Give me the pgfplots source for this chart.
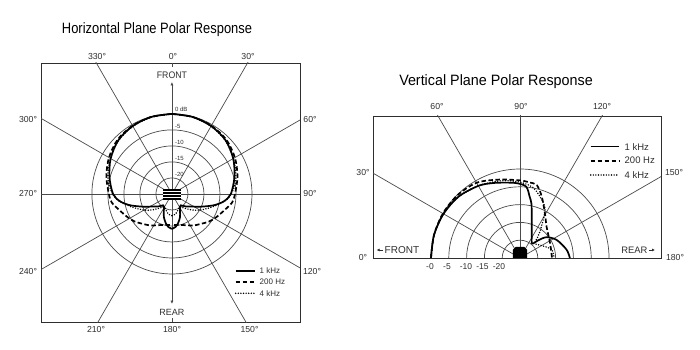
\documentclass[border=0pt]{standalone}
\usepackage{fontspec}
\setmainfont{Liberation Sans}
\usepackage{pgfplots}
\usepackage{pgfplotstable}
\usepgfplotslibrary{polar}
\usetikzlibrary{arrows.meta}
\pgfplotsset{compat=1.18}

\definecolor{ink}{HTML}{2E2E2E}
\definecolor{gridc}{HTML}{4A4A4A}

% Horizontal plane: angle clockwise from front (deg), level (dB); pattern is symmetric
\pgfplotstableread{
a db
0 0
15 -0.1
30 -0.5
45 -1.3
60 -2.9
75 -4.8
90 -6.6
98 -8.6
105 -11.4
114 -15.2
124 -18.0
133 -19.3
142 -20.5
148 -20.3
155 -19.0
161 -17.3
168 -15.7
174 -14.6
180 -14.1
}\hOneK
\pgfplotstableread{
a db
0 0
15 -0.1
30 -0.4
45 -1.0
60 -2.3
75 -3.8
90 -5.3
98 -6.0
107 -7.8
118 -9.4
127 -10.6
136 -12.0
145 -13.0
155 -14.2
165 -15.0
180 -15.3
}\hTwoH
\pgfplotstableread{
a db
0 0
15 -0.2
30 -0.6
45 -1.4
60 -2.8
75 -4.3
86 -5.8
96 -7.8
107 -11.5
120 -14.9
130 -17.3
140 -19.3
150 -20.3
160 -19.6
170 -18.6
180 -18.2
}\hFourK

% Vertical plane: angle from front (deg), level (dB)
\pgfplotstableread{
a db
0 0
15 0
30 -0.2
45 -0.6
60 -1.6
70 -2.6
80 -3.5
88 -4.0
95 -4.9
99 -7.6
102 -9.5
106 -13.1
110 -15.4
118 -18.0
130 -19.7
136 -17.8
142 -15.5
154 -13.5
170 -11.7
180 -11.0
}\vOneK
\pgfplotstableread{
a db
0 0
15 0
30 0
45 -0.1
60 -0.6
75 -2.2
90 -3.2
97 -3.6
103 -4.0
109.5 -6.7
119 -10.6
130.5 -13.5
154 -15.6
180 -16.0
}\vTwoH
\pgfplotstableread{
a db
0 0
15 0
30 -0.2
45 -0.7
60 -1.6
75 -2.6
88 -3.5
100 -4.8
110 -7.4
117.5 -9.8
125 -14.7
130 -17.2
136 -19.1
150 -18.0
165 -15.8
180 -15.4
}\vFourK

\tikzset{
  r1k/.style={black, line width=1.7pt},
  r200/.style={black, line width=1.7pt, dash pattern=on 4.5pt off 2.5pt},
  r4k/.style={black, line width=1.6pt, line cap=round, dash pattern=on 0pt off 2.6pt},
  gridline/.style={gridc, line width=0.7pt},
}

\begin{document}
\begin{tikzpicture}[x=1pt, y=1pt, font=\fontsize{8.7}{10}\selectfont]
\path[use as bounding box] (0,0) rectangle (700,350);

% ---------- Horizontal plane ----------
\begin{axis}[
  at={(41pt,28pt)}, anchor=south west,
  scale only axis, width=259pt, height=259pt,
  xmin=-40.9, xmax=40, ymin=-40, ymax=40.9,
  xtick=\empty, ytick=\empty,
  axis line style={ink, line width=0.8pt},
]
\pgfplotsinvokeforeach{5,10,15,20,25}{
  \draw[gridline] (axis cs:0,0) circle[radius=#1];
}
\pgfplotsinvokeforeach{30,60,120,150,210,240,300,330}{
  \draw[gridline] (axis cs:0,0) -- (axis cs:{90*sin(#1)},{90*cos(#1)});
}
\draw[gridline] (axis cs:-45,0) -- (axis cs:45,0);
\draw[gridline, -{Latex[length=3.5pt,width=3pt]}] (axis cs:0,0) -- (axis cs:0,35);
\draw[gridline, -{Latex[length=3.5pt,width=3pt]}] (axis cs:0,0) -- (axis cs:0,-34.4);
\draw[gridline] (axis cs:0,40.9) -- (axis cs:0,39.5);
\draw[gridline] (axis cs:0,-40) -- (axis cs:0,-38.7);

\addplot[r200, smooth, tension=0.5, data cs=polar] table[x expr={90-\thisrow{a}}, y expr={\thisrow{db}+25}] {\hTwoH};
\addplot[r200, smooth, tension=0.5, data cs=polar] table[x expr={90+\thisrow{a}}, y expr={\thisrow{db}+25}] {\hTwoH};
\addplot[r4k, smooth, tension=0.5, data cs=polar] table[x expr={90-\thisrow{a}}, y expr={\thisrow{db}+25}] {\hFourK};
\addplot[r4k, smooth, tension=0.5, data cs=polar] table[x expr={90+\thisrow{a}}, y expr={\thisrow{db}+25}] {\hFourK};
\addplot[r1k, smooth, tension=0.5, data cs=polar] table[x expr={90-\thisrow{a}}, y expr={\thisrow{db}+25}] {\hOneK};
\addplot[r1k, smooth, tension=0.5, data cs=polar] table[x expr={90+\thisrow{a}}, y expr={\thisrow{db}+25}] {\hOneK};

% microphone capsule
\fill[black] (axis cs:-2.7,-1.8) rectangle (axis cs:2.7,1.6);
\draw[white, line width=0.6pt] (axis cs:-2.7,-0.95) -- (axis cs:2.7,-0.95);
\draw[white, line width=0.6pt] (axis cs:-2.7,-0.1) -- (axis cs:2.7,-0.1);
\draw[white, line width=0.6pt] (axis cs:-2.7,0.75) -- (axis cs:2.7,0.75);

% level labels
\begin{scope}[every node/.style={anchor=base west, inner sep=0pt, text=ink, font=\fontsize{6}{6}\selectfont}]
\node at (axis cs:0.9,25.7) {0 dB};
\node at (axis cs:0.9,20.3) {-5};
\node at (axis cs:0.9,15.3) {-10};
\node at (axis cs:0.9,10.3) {-15};
\node at (axis cs:0.9,5.4) {-20};
\end{scope}
\node[text=ink, inner sep=0pt, font=\fontsize{9.5}{10}\selectfont] at (axis cs:0,37.0) {\scalebox{0.92}[1]{FRONT}};
\node[text=ink, inner sep=0pt, font=\fontsize{9}{10}\selectfont] at (axis cs:0,-36.9) {REAR};
\end{axis}

% ---------- Vertical plane ----------
\begin{axis}[
  at={(373pt,92pt)}, anchor=south west,
  scale only axis, width=288pt, height=142pt,
  xmin=-41.29, xmax=39.6, ymin=0, ymax=39.89,
  xtick=\empty, ytick=\empty,
  axis line style={ink, line width=0.8pt},
]
\pgfplotsinvokeforeach{5,10,15,20,25}{
  \draw[gridline] (axis cs:0,0) circle[radius=#1];
}
\pgfplotsinvokeforeach{30,60,90,120,150}{
  \draw[gridline] (axis cs:0,0) -- (axis cs:{-90*cos(#1)},{90*sin(#1)});
}
\addplot[r200, smooth, tension=0.5, data cs=polar] table[x expr={180-\thisrow{a}}, y expr={\thisrow{db}+25}] {\vTwoH};
\addplot[r4k, smooth, tension=0.5, data cs=polar] table[x expr={180-\thisrow{a}}, y expr={\thisrow{db}+25}] {\vFourK};
\addplot[r1k, smooth, tension=0.5, data cs=polar] table[x expr={180-\thisrow{a}}, y expr={\thisrow{db}+25}] {\vOneK};

% microphone body
\fill[black] (axis cs:-2,0) -- (axis cs:-2,2.3) -- (axis cs:-1.2,3.1) -- (axis cs:1.2,3.1) -- (axis cs:2,2.3) -- (axis cs:2,0) -- cycle;
\end{axis}

% ---------- titles ----------
\node[anchor=base, text=black, font=\fontsize{15}{15}\selectfont] at (157,316.7) {\scalebox{0.86}[1]{Horizontal Plane Polar Response}};
\node[anchor=base, text=black, font=\fontsize{15}{15}\selectfont] at (496,264) {\scalebox{0.955}[1]{Vertical Plane Polar Response}};

% ---------- angle labels, horizontal plane ----------
\begin{scope}[every node/.style={text=ink, inner sep=0pt}]
\node at (97,293.3) {330°};
\node at (173,293.3) {0°};
\node at (248,293.3) {30°};
\node at (28,230) {300°};
\node at (310,230) {60°};
\node at (28,156) {270°};
\node at (310,156) {90°};
\node at (28,78) {240°};
\node at (312,78) {120°};
\node at (96,20) {210°};
\node at (172,20) {180°};
\node at (249.5,20) {150°};

% ---------- angle labels, vertical plane ----------
\node at (437,243) {60°};
\node at (521,243) {90°};
\node at (602,243) {120°};
\node at (363,177) {30°};
\node at (674,177) {150°};
\node at (363,92) {0°};
\node at (675,92) {180°};
\begin{scope}[font=\fontsize{8.5}{10}\selectfont]
\node at (430,83) {-0};
\node at (447,83) {-5};
\node at (466,83) {-10};
\node at (482.5,83) {-15};
\node at (499,83) {-20};
\end{scope}
\node[anchor=west, font=\fontsize{10}{10}\selectfont] at (384.5,100) {FRONT};
\node[anchor=east, font=\fontsize{9.4}{10}\selectfont] at (647.7,100) {REAR};
\end{scope}
\draw[ink, line width=0.6pt, -{Latex[length=3pt,width=3pt]}] (382.5,100) -- (376.7,100);
\draw[ink, line width=0.6pt, -{Latex[length=3pt,width=3pt]}] (649,100) -- (655,100);

% ---------- legends ----------
\begin{scope}[every node/.style={text=ink, inner sep=0pt, anchor=west, font=\fontsize{8}{9}\selectfont}]
\draw[r1k] (235.7,79.3) -- (255,79.3);
\node at (259.5,79.3) {1 kHz};
\draw[r200] (235.7,68.3) -- (255,68.3);
\node at (259.5,68.3) {200 Hz};
\draw[r4k] (235.7,56.7) -- (255,56.7);
\node at (259.5,56.7) {4 kHz};
\end{scope}
\begin{scope}[every node/.style={text=ink, inner sep=0pt, anchor=west, font=\fontsize{9.5}{10}\selectfont}]
\draw[black, line width=1.1pt] (590.7,203.3) -- (619.3,203.3);
\node at (624.5,203.3) {1 kHz};
\draw[r200] (590.7,189.3) -- (619.3,189.3);
\node at (624.5,189.3) {200 Hz};
\draw[r4k] (590.7,175) -- (619.3,175);
\node at (624.5,175) {4 kHz};
\end{scope}
\end{tikzpicture}
\end{document}
